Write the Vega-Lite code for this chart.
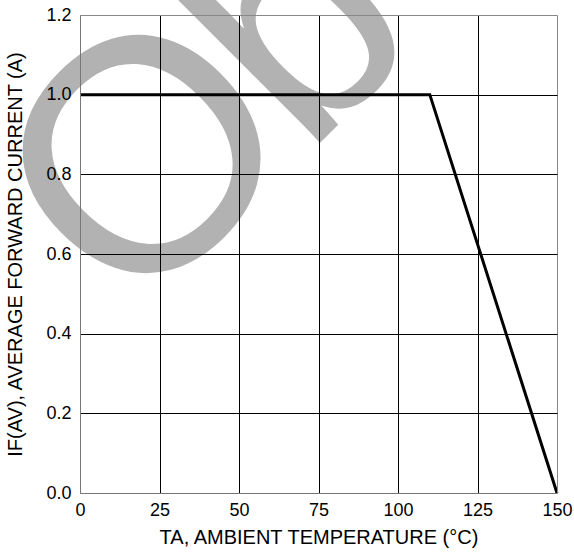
{
  "$schema": "https://vega.github.io/schema/vega-lite/v6.json",
  "width": 477,
  "height": 478,
  "autosize": {"type": "none"},
  "padding": {"left": 80, "top": 15, "right": 17, "bottom": 59},
  "background": "white",
  "config": {"view": {"stroke": null}, "font": "Liberation Sans"},
  "encoding": {
    "x": {
      "field": "T",
      "type": "quantitative",
      "scale": {"domain": [0, 150], "nice": false, "zero": false},
      "axis": {
        "title": "TA, AMBIENT TEMPERATURE  (°C)",
        "values": [0, 25, 50, 75, 100, 125, 150],
        "grid": true,
        "ticks": false,
        "tickSize": 0,
        "domainColor": "#777777",
        "gridColor": {"condition": {"test": "datum.value == 0 || datum.value == 150", "value": "#888888"}, "value": "#000000"},
        "gridOpacity": 1,
        "gridWidth": 1,
        "labelFont": "Liberation Sans",
        "labelFontSize": 18,
        "labelColor": "#000000",
        "labelPadding": 8,
        "labelFlush": false,
        "labelOverlap": false,
        "titleFont": "Liberation Sans",
        "titleFontSize": 20,
        "titleFontWeight": "normal",
        "titleColor": "#000000",
        "titlePadding": 8,
        "zindex": 1
      }
    },
    "y": {
      "field": "I",
      "type": "quantitative",
      "scale": {"domain": [0, 1.2], "nice": false},
      "axis": {
        "title": "IF(AV), AVERAGE FORWARD CURRENT (A)",
        "values": [0, 0.2, 0.4, 0.6, 0.8, 1.0, 1.2],
        "format": ".1f",
        "grid": true,
        "ticks": false,
        "tickSize": 0,
        "domainColor": "#777777",
        "gridColor": {"condition": {"test": "datum.value == 0 || datum.value > 1.1", "value": "#888888"}, "value": "#000000"},
        "gridOpacity": 1,
        "gridWidth": 1,
        "labelFont": "Liberation Sans",
        "labelFontSize": 18,
        "labelColor": "#000000",
        "labelPadding": 9,
        "labelOverlap": false,
        "titleFont": "Liberation Sans",
        "titleFontSize": 20,
        "titleFontWeight": "normal",
        "titleColor": "#000000",
        "titlePadding": 20,
        "zindex": 1
      }
    }
  },
  "layer": [
    {
      "data": {"values": [{"glyph": "O", "T": 44.81, "I": 0.649}]},
      "mark": {"type": "text", "font": "Liberation Sans", "fontSize": 330, "angle": 315, "align": "center", "baseline": "alphabetic", "color": "#b2b2b2"},
      "encoding": {"text": {"field": "glyph"}}
    },
    {
      "data": {"values": [{"glyph": "b", "T": 71.07, "I": 0.8435}]},
      "mark": {"type": "text", "font": "Liberation Sans", "fontSize": 305, "angle": 315, "align": "left", "baseline": "alphabetic", "color": "#b2b2b2"},
      "encoding": {"text": {"field": "glyph"}}
    },
    {
      "data": {"values": [{"T": 0, "I": 1.0}, {"T": 110, "I": 1.0}, {"T": 150, "I": 0.0}]},
      "mark": {"type": "line", "color": "#000000", "strokeWidth": 3, "strokeJoin": "miter"},
      "encoding": {}
    }
  ]
}
